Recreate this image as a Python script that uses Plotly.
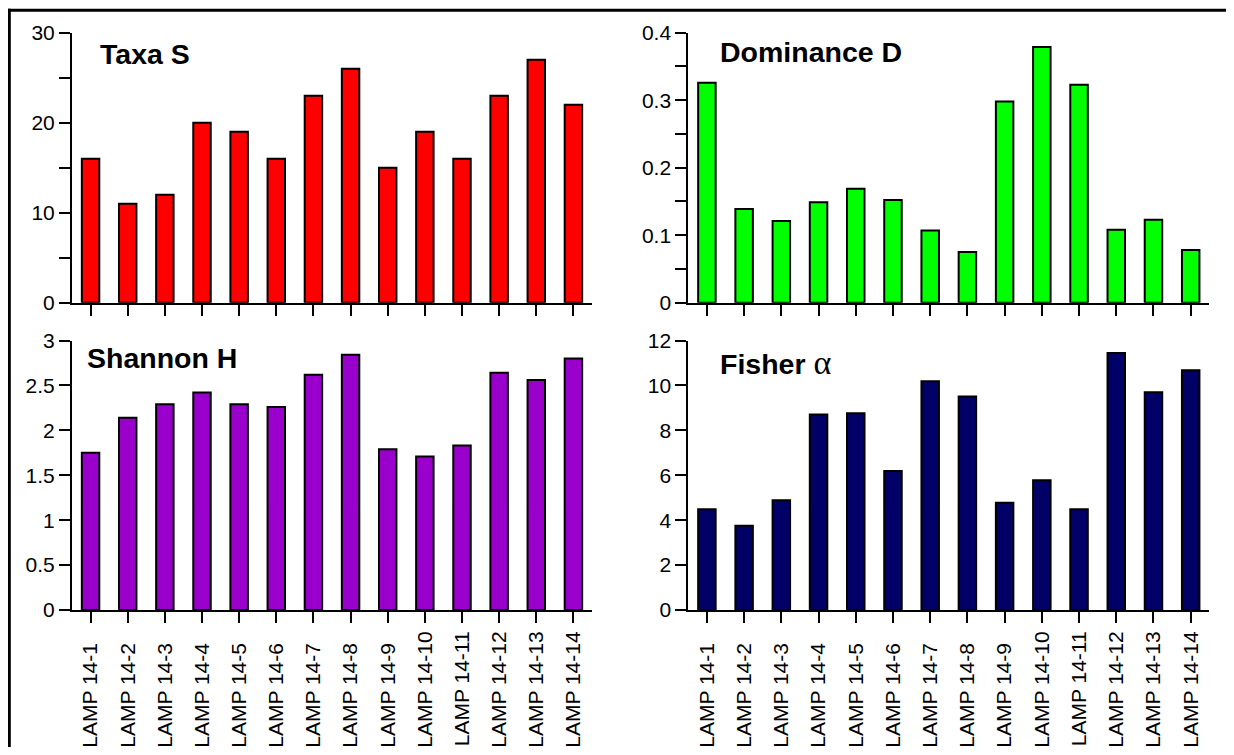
import plotly.graph_objects as go

# ---- data ----
samples = ["LAMP 14-1", "LAMP 14-2", "LAMP 14-3", "LAMP 14-4", "LAMP 14-5",
           "LAMP 14-6", "LAMP 14-7", "LAMP 14-8", "LAMP 14-9", "LAMP 14-10",
           "LAMP 14-11", "LAMP 14-12", "LAMP 14-13", "LAMP 14-14"]
taxa_s = [16, 11, 12, 20, 19, 16, 23, 26, 15, 19, 16, 23, 27, 22]
dominance_d = [0.326, 0.139, 0.121, 0.149, 0.169, 0.152, 0.107, 0.075,
               0.298, 0.379, 0.323, 0.108, 0.123, 0.078]
shannon_h = [1.75, 2.14, 2.29, 2.42, 2.29, 2.26, 2.62, 2.84,
             1.79, 1.71, 1.83, 2.64, 2.56, 2.80]
fisher_alpha = [4.49, 3.75, 4.89, 8.70, 8.76, 6.19, 10.19, 9.51,
                4.77, 5.78, 4.49, 11.44, 9.70, 10.67]

panel_titles = ["<b>Taxa S</b>", "<b>Dominance D</b>", "<b>Shannon H</b>",
                "<b>Fisher</b> <span style='font-family:Liberation Serif, Times New Roman, serif;font-weight:normal;font-size:34px'>α</span>"]

OFF = 8  # page body margin
W, H = 1234 - 2 * OFF, 755 - 2 * OFF  # figure fits the window without scrolling
FONT = "Arial, Liberation Sans, sans-serif"

def px_x(p):
    return (p - OFF) / W

def px_y(p):
    return 1 - (p - OFF) / H

# pad shorter labels with a figure space so all labels start at the same line
maxlen = max(len(s) for s in samples)
tick_text = [s + "\u2007" * (maxlen - len(s)) for s in samples]

fig = go.Figure()

series = [
    (taxa_s, "#FF0000", "x", "y"),
    (dominance_d, "#00FF00", "x2", "y2"),
    (shannon_h, "#9900CC", "x3", "y3"),
    (fisher_alpha, "#000066", "x4", "y4"),
]
for vals, col, xa, ya in series:
    fig.add_trace(go.Bar(
        x=samples, y=vals, xaxis=xa, yaxis=ya,
        marker=dict(color=col, line=dict(color="black", width=2)),
        width=0.47, showlegend=False, hoverinfo="x+y",
    ))

left_dom = [px_x(72), px_x(592)]
right_dom = [px_x(688.3), px_x(1209.3)]
top_dom = [px_y(302.7), px_y(32.7)]
bot_dom = [px_y(610), px_y(340.5)]

common_x = dict(
    type="category", range=[-0.5, 13.5], showline=True, linecolor="black",
    linewidth=2, ticks="outside", ticklen=11, tickwidth=2, tickcolor="black",
    showgrid=False, zeroline=False, tickangle=-90, automargin=False,
    tickvals=samples, ticktext=tick_text,
    tickfont=dict(family=FONT, size=21, color="black"),
)
common_y = dict(
    showline=True, linecolor="black", linewidth=2, ticks="outside",
    ticklen=11, tickwidth=2, tickcolor="black", showgrid=False,
    zeroline=False, automargin=False,
    tickfont=dict(family=FONT, size=21, color="black"),
)

fig.update_layout(
    width=W, height=H,
    margin=dict(l=0, r=0, t=0, b=0, autoexpand=False),
    paper_bgcolor="white", plot_bgcolor="white",
    font=dict(family=FONT, color="black"),
    showlegend=False,
    xaxis=dict(common_x, domain=left_dom, anchor="y", showticklabels=False),
    xaxis2=dict(common_x, domain=right_dom, anchor="y2", showticklabels=False),
    xaxis3=dict(common_x, domain=left_dom, anchor="y3"),
    xaxis4=dict(common_x, domain=right_dom, anchor="y4"),
    yaxis=dict(common_y, domain=top_dom, anchor="x", range=[0, 30], dtick=10,
               minor=dict(dtick=5, ticks="outside", ticklen=11, tickwidth=2,
                          tickcolor="black", showgrid=False)),
    yaxis2=dict(common_y, domain=top_dom, anchor="x2", range=[0, 0.4], dtick=0.1,
                minor=dict(dtick=0.05, ticks="outside", ticklen=11, tickwidth=2,
                           tickcolor="black", showgrid=False)),
    yaxis3=dict(common_y, domain=bot_dom, anchor="x3", range=[0, 3], dtick=0.5),
    yaxis4=dict(common_y, domain=bot_dom, anchor="x4", range=[0, 12], dtick=2),
)

title_pos = [(98, 53.8), (717.5, 51.7), (84.7, 357.7), (717.5, 362.7)]
for txt, (xp, yp) in zip(panel_titles, title_pos):
    fig.add_annotation(
        text=txt, xref="paper", yref="paper", x=px_x(xp), y=px_y(yp),
        xanchor="left", yanchor="middle", showarrow=False,
        font=dict(family=FONT, size=28.5, color="black"),
    )

# outer frame: only the top and left edges are visible in the crop
fig.add_shape(type="line", xref="paper", yref="paper",
              x0=px_x(7.8), x1=1.0, y0=px_y(10.3), y1=px_y(10.3),
              line=dict(color="black", width=3))
fig.add_shape(type="line", xref="paper", yref="paper",
              x0=px_x(9.3), x1=px_x(9.3), y0=px_y(8.8), y1=0.0,
              line=dict(color="black", width=3))

fig.write_html("out.html")
